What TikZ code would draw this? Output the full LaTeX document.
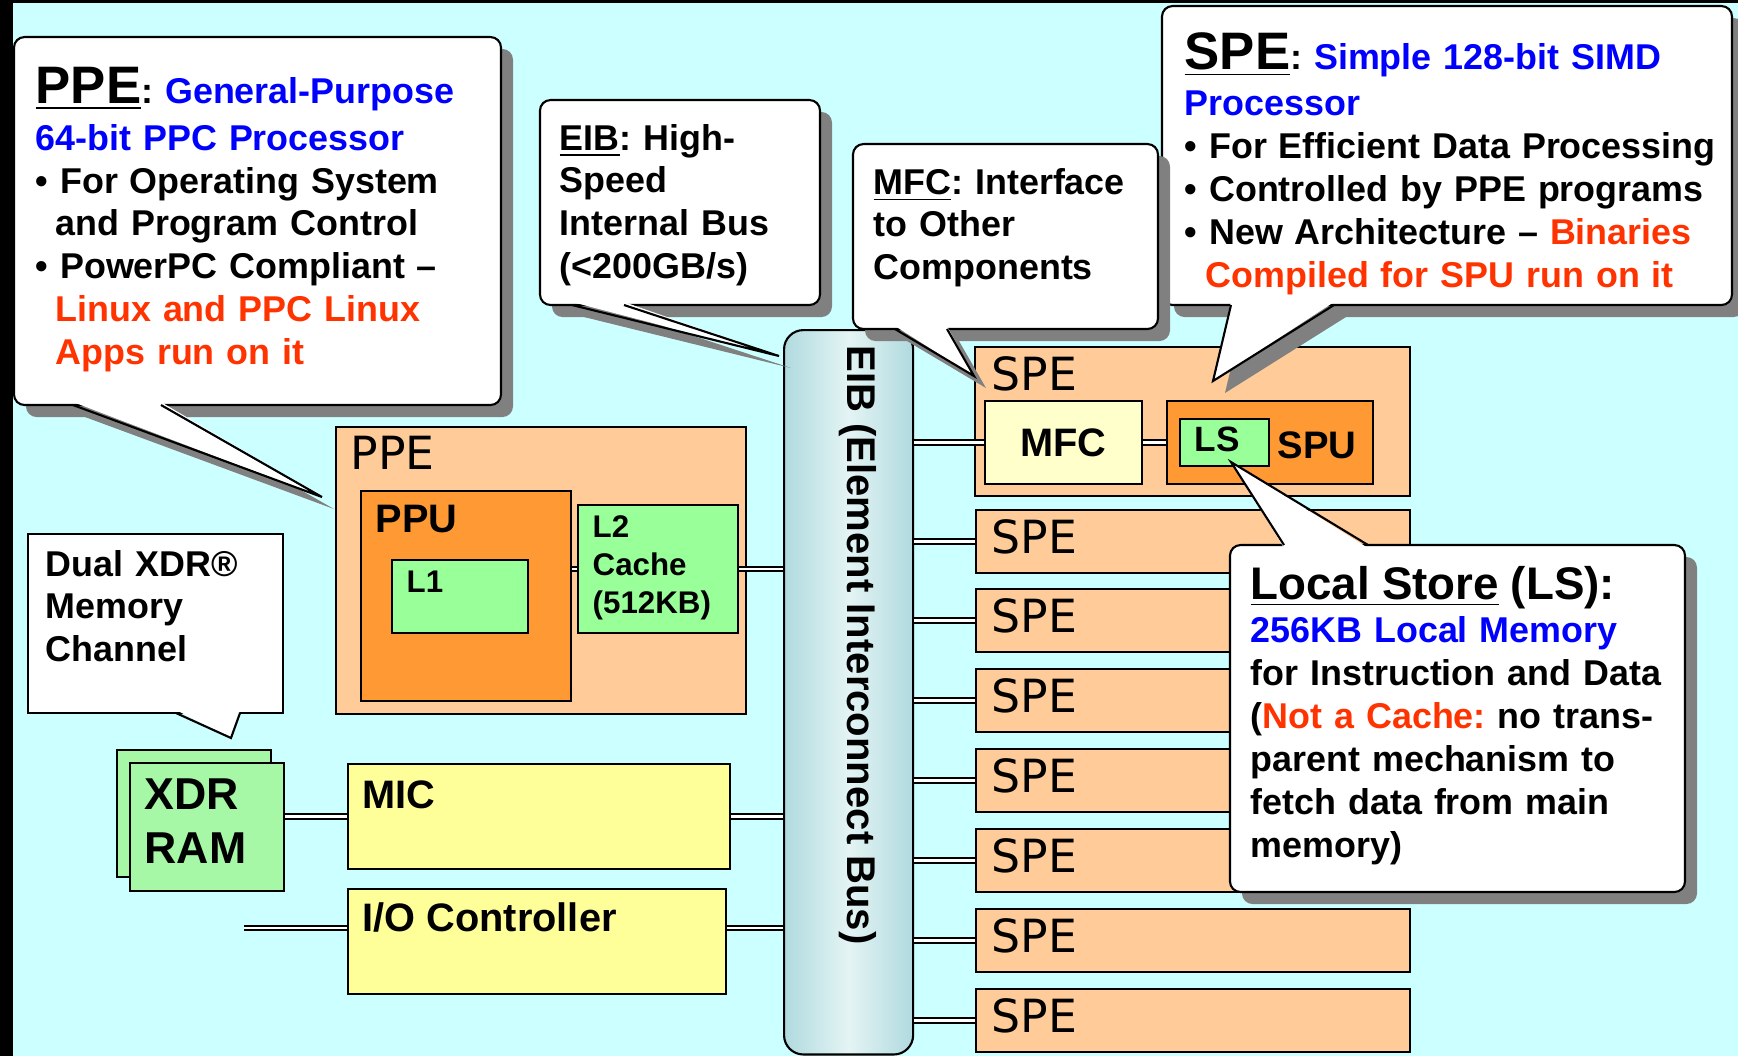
\documentclass[tikz,border=0pt]{standalone}
\usepackage{fontspec}
\setmainfont{Liberation Sans}
\newfontfamily\speFont{DejaVu Sans}
\usepackage{tikz}
\definecolor{bgColor}{HTML}{CCFFFF}
\definecolor{peachColor}{HTML}{FFCC99}
\definecolor{orangeColor}{HTML}{FF9933}
\definecolor{greenColor}{HTML}{99FF99}
\definecolor{xdrColor}{HTML}{A6F7A6}
\definecolor{yellowColor}{HTML}{FFFF99}
\definecolor{mfcColor}{HTML}{FFFFCC}
\definecolor{busColor}{HTML}{B0DADF}
\definecolor{busLight}{HTML}{E4F4F4}
\definecolor{shadowColor}{HTML}{808080}
\definecolor{txtBlue}{HTML}{0000FF}
\definecolor{txtRed}{HTML}{FF3300}
\tikzset{
  unit/.style={draw=black, line width=0.5pt, anchor=north west, inner sep=0pt},
  boxLabel/.style={anchor=base west, inner sep=0pt, font=\bfseries\fontsize{11.3}{13}\selectfont},
  speLabel/.style={anchor=base west, inner sep=0pt, font=\speFont\fontsize{13}{15}\selectfont},
  eibBus/.style={draw=black, line width=0.6pt, rounded corners=5.5pt, left color=busColor, right color=busColor, middle color=busLight, anchor=north west, inner sep=0pt},
  link/.style={double=white, double distance=0.65pt, line width=0.6pt},
  noteBox/.style={fill=white, draw=black, line width=0.6pt, rounded corners=3pt},
  noteLine/.style={line width=0.6pt},
  noteText/.style={anchor=base west, inner sep=0pt, align=left, font=\frenchspacing\bfseries\fontsize{10.2}{12.2}\selectfont}
}
\newcommand{\titleSize}{\fontsize{15}{17}\selectfont}
\begin{document}
\begin{tikzpicture}[x=0.01cm, y=-0.01cm]
\useasboundingbox (0,0) rectangle (1738,1056);
\fill[bgColor] (0,0) rectangle (1738,1056);
\fill[black] (0,0) rectangle (13,1056);
\fill[black] (0,0) rectangle (1738,3);

% PPE side
\node[unit, fill=peachColor, minimum width=4.10cm, minimum height=2.87cm] (ppe) at (335,426) {};
\node[speLabel] (ppeLbl) at (350,469) {PPE};
\node[unit, fill=orangeColor, minimum width=2.10cm, minimum height=2.10cm] (ppu) at (360,490) {};
\node[boxLabel] (ppuLbl) at (375,532) {PPU};
\node[unit, fill=greenColor, minimum width=1.36cm, minimum height=0.73cm] (l1) at (391,559) {};
\node[boxLabel, font=\bfseries\fontsize{8.9}{10.5}\selectfont] (l1Lbl) at (406,592) {L1};
\node[unit, fill=greenColor, minimum width=1.60cm, minimum height=1.28cm] (l2) at (577,504) {};
\node[boxLabel, text width=1.5cm, align=left, font=\bfseries\fontsize{8.9}{10.9}\selectfont] (l2Lbl) at (592,537) {L2\\Cache\\(512KB)};

% memory and I/O
\node[unit, fill=xdrColor, minimum width=1.54cm, minimum height=1.27cm] (xdrBack) at (116,749) {};
\node[unit, fill=xdrColor, minimum width=1.54cm, minimum height=1.28cm] (xdr) at (129,762) {};
\node[boxLabel, text width=1.4cm, align=left, font=\bfseries\fontsize{12.7}{15.4}\selectfont] (xdrLbl) at (144,809) {XDR\\RAM};
\node[unit, fill=yellowColor, minimum width=3.82cm, minimum height=1.05cm] (mic) at (347,763) {};
\node[boxLabel] (micLbl) at (362,808) {MIC};
\node[unit, fill=yellowColor, minimum width=3.78cm, minimum height=1.05cm] (io) at (347,888) {};
\node[boxLabel] (ioLbl) at (362,931) {I/O Controller};
\coordinate (ioExt) at (244,928);

% bus
\node[eibBus, minimum width=1.29cm, minimum height=7.24cm] (eib) at (783,329) {};
\node[rotate=-90, inner sep=0pt, font=\bfseries\fontsize{11.4}{13}\selectfont] (eibLbl) at (858,645) {EIB (Element Interconnect Bus)};

% SPEs
\node[unit, fill=peachColor, minimum width=4.35cm, minimum height=1.49cm] (spe1) at (974,346) {};
\node[speLabel] (speLbl1) at (991,390) {SPE};
\node[unit, fill=mfcColor, minimum width=1.57cm, minimum height=0.83cm, font=\bfseries\fontsize{11.3}{13}\selectfont] (mfc) at (984,400) {MFC};
\node[unit, fill=orangeColor, minimum width=2.06cm, minimum height=0.83cm] (spu) at (1166,400) {};
\node[unit, fill=greenColor, minimum width=0.89cm, minimum height=0.47cm] (ls) at (1179,418) {};
\node[boxLabel, font=\bfseries\fontsize{10}{12}\selectfont] (lsLbl) at (1194,451) {LS};
\node[boxLabel, font=\bfseries\fontsize{10.9}{13}\selectfont] (spuLbl) at (1277,458) {SPU};
\foreach \i/\yy in {2/509,3/588,4/668,5/748,6/828,7/908,8/988} {
  \node[unit, fill=peachColor, minimum width=4.34cm, minimum height=0.63cm] (spe\i) at (975,\yy) {};
  \node[speLabel] (speLbl\i) at (991,\yy+44) {SPE};
  \draw[link] (spe\i.west -| eib.east) -- (spe\i.west);
}

% links
\draw[link] (ppu.east |- l2.west) -- (l2.west);
\draw[link] (l2.east) -- (l2.east -| eib.west);
\draw[link] (xdr.east |- mic.west) -- (mic.west);
\draw[link] (mic.east) -- (mic.east -| eib.west);
\draw[link] (ioExt) -- (io.west |- ioExt);
\draw[link] (io.east |- ioExt) -- (eib.west |- ioExt);
\draw[link] (mfc.west -| eib.east) -- (mfc.west);
\draw[link] (mfc.east) -- (spu.west);

% SPE note
\fill[shadowColor, rounded corners=3pt] (1174,18) rectangle (1744,317);
\fill[shadowColor] (1243,317) -- (1225,393) -- (1346,317) -- cycle;
\draw[noteBox] (1162,6) rectangle (1732,305);
\fill[white] (1231,302) -- (1213,381) -- (1334,302) -- cycle;
\draw[noteLine] (1231,305) -- (1213,381) -- (1334,305);
\node[noteText, text width=5.5cm] (speNote) at (1184,69) {{\titleSize\underline{SPE}}: \textcolor{txtBlue}{Simple 128-bit SIMD}\\[1pt]
  \textcolor{txtBlue}{Processor}\\
  • For Efficient Data Processing\\
  • Controlled by PPE programs\\
  • New Architecture – \textcolor{txtRed}{Binaries}\\
  \hspace*{0.58em}\textcolor{txtRed}{Compiled for SPU run on it}};

% PPE note
\fill[shadowColor, rounded corners=3pt] (26,49) rectangle (513,417);
\fill[shadowColor] (85,417) -- (334,509) -- (173,417) -- cycle;
\draw[noteBox] (14,37) rectangle (501,405);
\fill[white] (73,402) -- (322,497) -- (161,402) -- cycle;
\draw[noteLine] (73,405) -- (322,497) -- (161,405);
\node[noteText, text width=4.7cm] (ppeNote) at (35,103) {{\titleSize\underline{PPE}}: \textcolor{txtBlue}{General-Purpose}\\[1.2pt]
  \textcolor{txtBlue}{64-bit PPC Processor}\\
  • For Operating System\\
  \hspace*{0.55em}and Program Control\\
  • PowerPC Compliant –\\
  \hspace*{0.55em}\textcolor{txtRed}{Linux and PPC Linux}\\
  \hspace*{0.55em}\textcolor{txtRed}{Apps run on it}};

% EIB note
\fill[shadowColor, rounded corners=3pt] (552,112) rectangle (832,317);
\fill[shadowColor] (584,317) -- (791,368) -- (636,317) -- cycle;
\draw[noteBox] (540,100) rectangle (820,305);
\fill[white] (572,302) -- (779,356) -- (624,302) -- cycle;
\draw[noteLine] (572,305) -- (779,356) -- (624,305);
\node[noteText, text width=2.6cm] (eibNote) at (559,150) {\underline{EIB}: High-\\Speed\\Internal Bus\\(<200GB/s)};

% MFC note
\fill[shadowColor, rounded corners=3pt] (865,156) rectangle (1170,341);
\fill[shadowColor] (907,341) -- (986,388) -- (959,341) -- cycle;
\draw[noteBox] (853,144) rectangle (1158,329);
\fill[white] (895,326) -- (974,376) -- (947,326) -- cycle;
\draw[noteLine] (895,329) -- (974,376) -- (947,329);
\node[noteText, text width=2.9cm] (mfcNote) at (873,194) {\underline{MFC}: Interface\\to Other\\Components};

% LS note
\fill[shadowColor, rounded corners=3pt] (1242,557) rectangle (1697,904);
\draw[noteBox] (1230,545) rectangle (1685,892);
\fill[white] (1284,548) -- (1231,462) -- (1368,548) -- cycle;
\draw[noteLine] (1284,545) -- (1231,462) -- (1368,545);
\node[noteText, text width=4.3cm] (lsNote) at (1250,599) {{\fontsize{13}{15}\selectfont\underline{Local Store} (LS):}\\[0.3pt]
  \textcolor{txtBlue}{256KB Local Memory}\\
  for Instruction and Data\\
  (\textcolor{txtRed}{Not a Cache:} no trans-\\
  parent mechanism to\\
  fetch data from main\\
  memory)};

% XDR note
\draw[fill=white, line width=0.6pt] (28,534) rectangle (283,713);
\fill[white] (176,710) -- (231,738) -- (240,710) -- cycle;
\draw[noteLine] (176,713) -- (231,738) -- (240,713);
\node[noteText, text width=2.4cm] (xdrNote) at (45,576) {Dual XDR®\\Memory\\Channel};
\end{tikzpicture}
\end{document}
